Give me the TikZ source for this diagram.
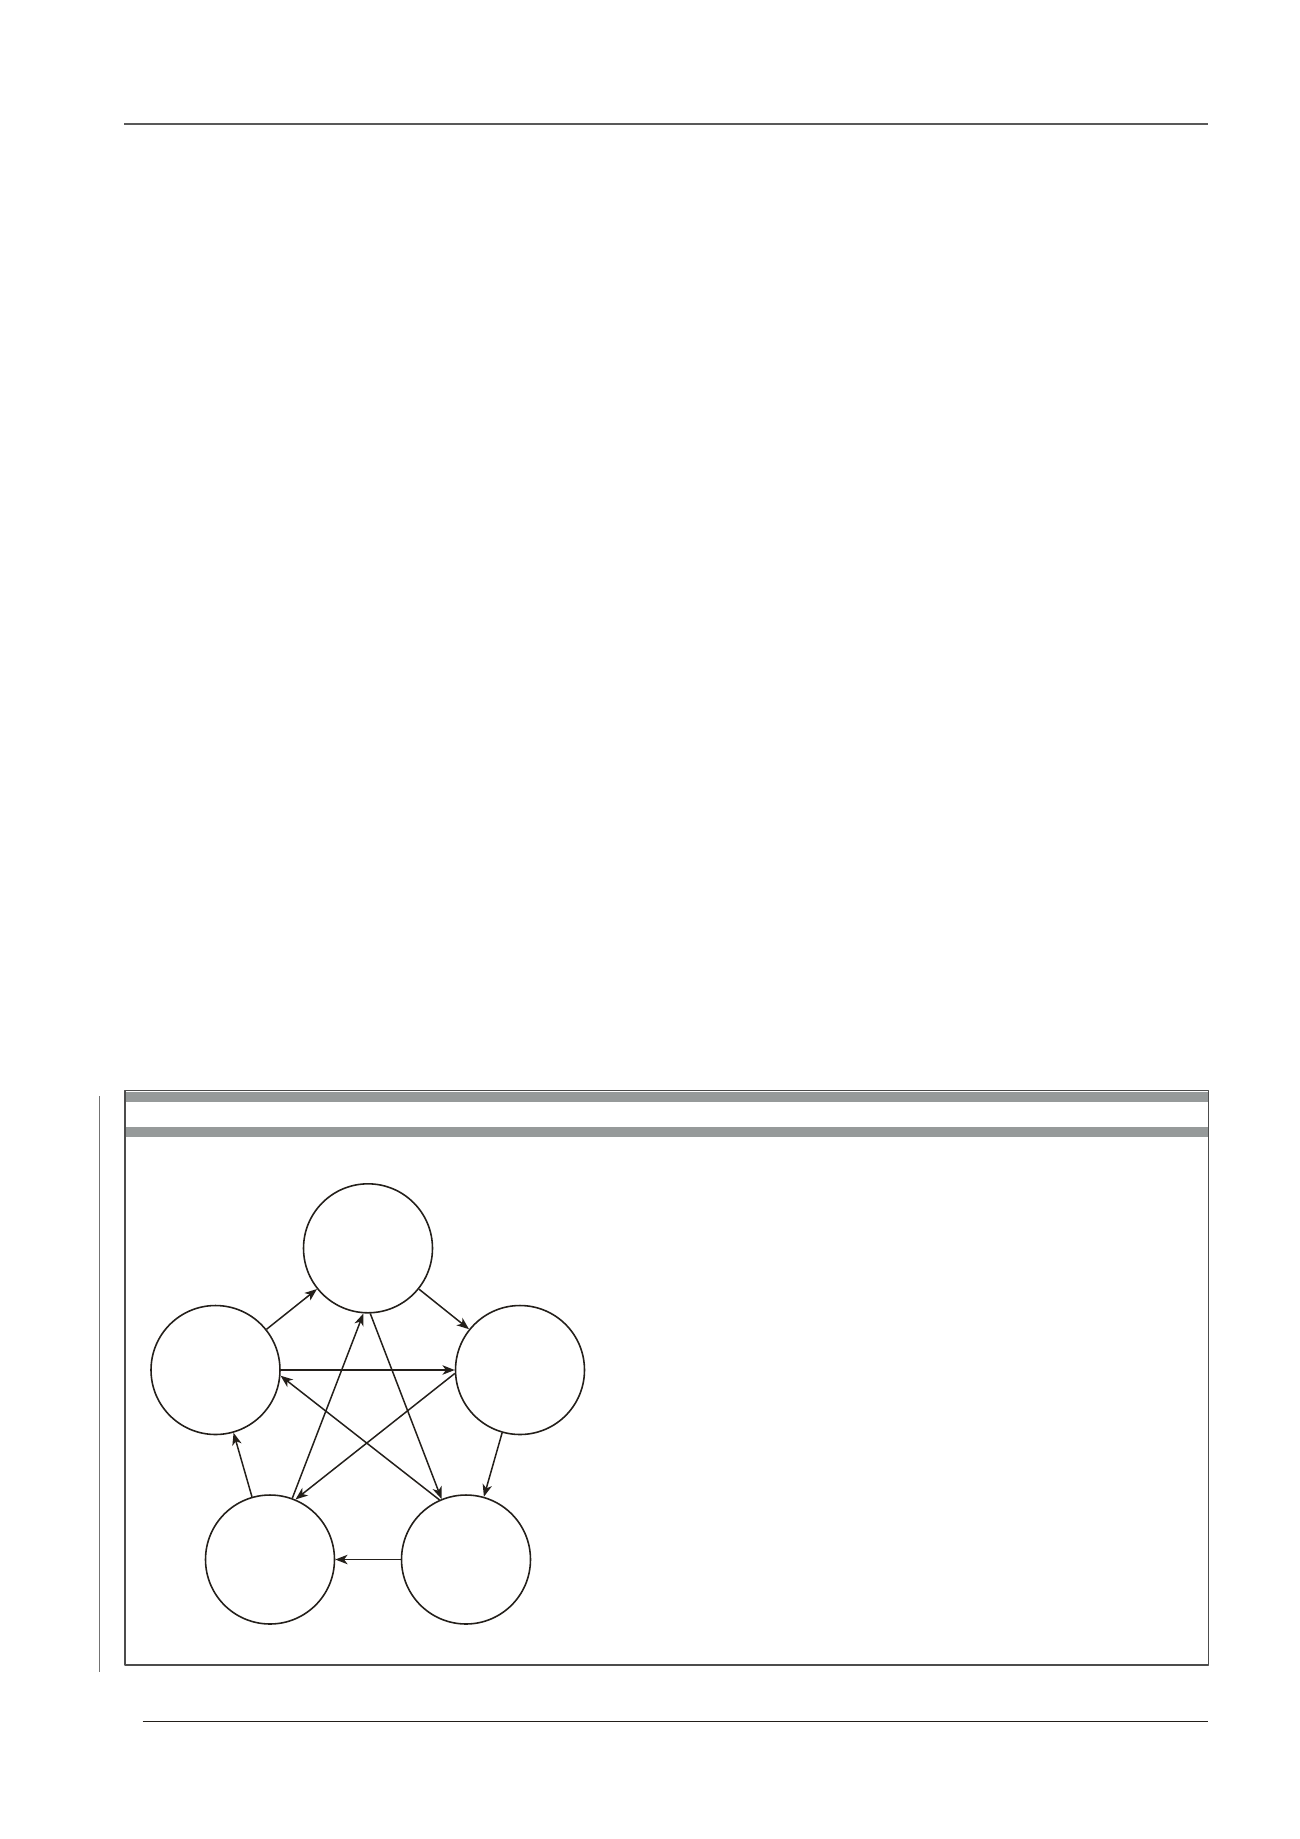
\documentclass[tikz,border=0pt]{standalone}
\usetikzlibrary{arrows.meta}
\definecolor{ink}{RGB}{35,31,26}
\definecolor{band}{RGB}{150,154,154}
\begin{document}
\begin{tikzpicture}[x=0.02cm,y=-0.02cm,>={Stealth[length=7pt,width=5.4pt,inset=2pt]},line join=round,
	phase/.style={circle,draw=ink,line width=0.9pt,minimum size=2.58cm,inner sep=0pt},
	link/.style={->,draw=ink,line width=0.85pt}]
		\useasboundingbox (0,0) rectangle (1300,1839);
		\draw[line width=1.1pt,black!65] (124,123.7)--(1208,123.7);
		\draw[line width=0.75pt,ink] (142.7,1721.5)--(1208,1721.5);
		\draw[line width=0.6pt,black!55] (99.7,1096)--(99.7,1672);
		\fill[band] (125,1091.7) rectangle (1208.7,1101.7);
		\fill[band] (125,1126.7) rectangle (1208.7,1137.3);
		\draw[line width=0.75pt,black!70] (125,1090.7) rectangle (1208.7,1665);
		\node[phase] (A) at (368,1248.3) {};
		\node[phase] (B) at (520,1370) {};
		\node[phase] (C) at (466,1559.5) {};
		\node[phase] (D) at (270,1559.5) {};
		\node[phase] (E) at (215.5,1370) {};
		\draw[link] (E)--(A);
		\draw[link] (A)--(B);
		\draw[link] (B)--(C);
		\draw[link] (C)--(D);
		\draw[link] (D)--(E);
		\draw[link] (E)--(B);
		\draw[link] (C.114)--(E.-5);
		\draw[link] (B.183)--(D.67);
		\draw[link] (D.70)--(A.266);
		\draw[link] (A.272)--(C.112);
		\end{tikzpicture}
\end{document}
